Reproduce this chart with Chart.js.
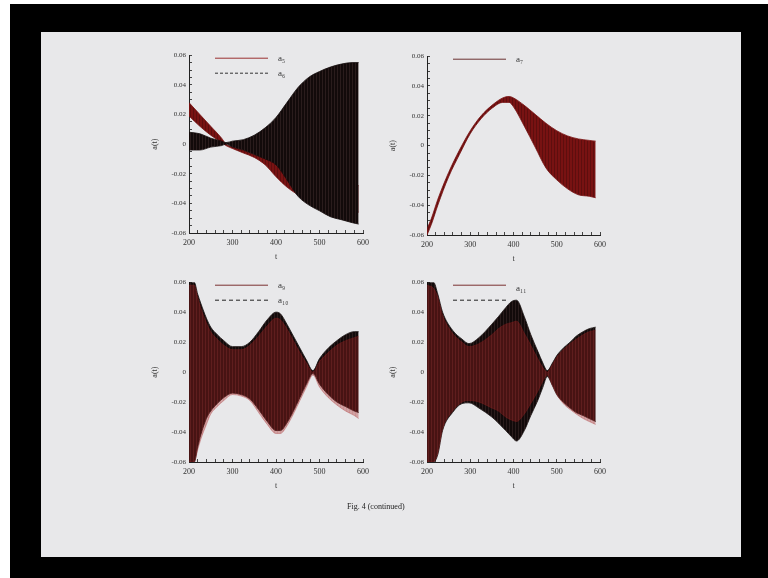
<!DOCTYPE html>
<html>
<head>
<meta charset="utf-8">
<script src="https://cdn.jsdelivr.net/npm/chart.js@4.4.1/dist/chart.umd.min.js"></script>
<style>
  html, body { margin: 0; padding: 0; background: #fff; width: 768px; height: 578px; overflow: hidden; }
  #screen { position: absolute; left: 10px; top: 4px; width: 758px; height: 574px; background: #000; }
  #slide { position: absolute; left: 41px; top: 32px; width: 700px; height: 525px; background: #e8e8ea; }
  canvas { position: absolute; }
  #caption { position: absolute; left: 347px; top: 502px; font: 8px "Liberation Serif", serif; color: #222; }
</style>
</head>
<body>
<div id="screen"></div>
<div id="slide"></div>
<canvas id="c1" width="238" height="228" style="left:139px;top:45px;width:238px;height:228px"></canvas>
<canvas id="c2" width="237" height="229" style="left:377px;top:46px;width:237px;height:229px"></canvas>
<canvas id="c3" width="238" height="230" style="left:139px;top:272px;width:238px;height:230px"></canvas>
<canvas id="c4" width="237" height="230" style="left:377px;top:272px;width:237px;height:230px"></canvas>
<div id="caption">Fig. 4 (continued)</div>
<script>
// tick labels
const xLabels = [200, 300, 400, 500, 600];
const yLabels = ['-0.06', '-0.04', '-0.02', '0', '0.02', '0.04', '0.06'];

// top left: a5 (red band) and a6 (black band), upper / lower envelope
const t1 = [200, 225, 250, 275, 285, 300, 325, 350, 375, 400, 425, 450, 475, 500, 525, 550, 575, 590];
const a5Up = [0.028, 0.020, 0.012, 0.004, 0.000, -0.002, -0.004, -0.007, -0.009, -0.013, -0.018, -0.022, -0.024, -0.025, -0.026, -0.027, -0.028, -0.028];
const a5Lo = [0.019, 0.012, 0.006, 0.001, -0.001, -0.003, -0.006, -0.009, -0.014, -0.022, -0.029, -0.034, -0.037, -0.040, -0.042, -0.044, -0.045, -0.046];
const a6Up = [0.008, 0.007, 0.004, 0.002, 0.001, 0.002, 0.003, 0.006, 0.011, 0.018, 0.028, 0.038, 0.045, 0.049, 0.052, 0.054, 0.055, 0.055];
const a6Lo = [-0.004, -0.004, -0.002, -0.001, 0.000, -0.002, -0.004, -0.007, -0.010, -0.014, -0.024, -0.035, -0.041, -0.045, -0.049, -0.051, -0.053, -0.054];

// top right: a7
const t2 = [200, 210, 225, 250, 275, 300, 325, 350, 375, 390, 400, 425, 450, 475, 500, 525, 550, 575, 590];
const a7Up = [-0.056, -0.049, -0.036, -0.018, -0.003, 0.010, 0.020, 0.027, 0.032, 0.033, 0.032, 0.027, 0.021, 0.015, 0.010, 0.0065, 0.0045, 0.0035, 0.003];
const a7Lo = [-0.060, -0.053, -0.040, -0.021, -0.006, 0.008, 0.018, 0.025, 0.029, 0.029, 0.026, 0.013, -0.001, -0.015, -0.023, -0.029, -0.033, -0.034, -0.035];

// bottom left: a9 (red) and a10 (black)
const t3 = [200, 212, 220, 227, 240, 250, 265, 280, 300, 320, 340, 360, 380, 400, 410, 425, 440, 455, 470, 485, 500, 520, 540, 560, 580, 590];
const a9Up = [0.058, 0.058, 0.050, 0.043, 0.033, 0.027, 0.022, 0.018, 0.015, 0.015, 0.018, 0.024, 0.031, 0.036, 0.035, 0.029, 0.021, 0.013, 0.006, 0.000, 0.007, 0.013, 0.018, 0.021, 0.023, 0.024];
const a9Lo = [-0.060, -0.060, -0.052, -0.045, -0.035, -0.028, -0.023, -0.019, -0.015, -0.016, -0.019, -0.027, -0.035, -0.041, -0.041, -0.036, -0.028, -0.019, -0.010, -0.002, -0.010, -0.017, -0.022, -0.026, -0.029, -0.031];
const a10Up = [0.060, 0.060, 0.052, 0.046, 0.036, 0.030, 0.025, 0.021, 0.017, 0.017, 0.020, 0.027, 0.035, 0.040, 0.039, 0.032, 0.024, 0.016, 0.008, 0.001, 0.009, 0.016, 0.021, 0.025, 0.027, 0.027];
const a10Lo = [-0.060, -0.060, -0.050, -0.042, -0.031, -0.026, -0.021, -0.017, -0.014, -0.015, -0.018, -0.025, -0.033, -0.039, -0.039, -0.034, -0.026, -0.017, -0.008, -0.001, -0.008, -0.015, -0.020, -0.023, -0.026, -0.027];

// bottom right: a11 (red) and the dashed black one
const t4 = [200, 215, 225, 236, 259, 281, 297, 320, 350, 365, 382, 395, 407, 425, 440, 456, 468, 478, 490, 500, 515, 531, 545, 561, 575, 590];
const a11Up = [0.058, 0.056, 0.050, 0.038, 0.026, 0.020, 0.017, 0.019, 0.025, 0.029, 0.032, 0.033, 0.034, 0.026, 0.018, 0.009, 0.003, 0.000, 0.005, 0.010, 0.015, 0.019, 0.022, 0.025, 0.027, 0.028];
const a11Lo = [-0.060, -0.060, -0.054, -0.038, -0.026, -0.020, -0.019, -0.020, -0.024, -0.026, -0.030, -0.032, -0.033, -0.028, -0.021, -0.013, -0.006, -0.002, -0.009, -0.015, -0.021, -0.025, -0.028, -0.031, -0.033, -0.035];
const a12Up = [0.060, 0.060, 0.052, 0.040, 0.028, 0.022, 0.019, 0.023, 0.032, 0.037, 0.043, 0.047, 0.048, 0.037, 0.025, 0.014, 0.006, 0.001, 0.006, 0.011, 0.016, 0.020, 0.024, 0.027, 0.029, 0.030];
const a12Lo = [-0.060, -0.060, -0.055, -0.039, -0.027, -0.021, -0.0205, -0.024, -0.030, -0.034, -0.039, -0.043, -0.046, -0.039, -0.029, -0.019, -0.010, -0.003, -0.009, -0.015, -0.020, -0.024, -0.027, -0.029, -0.031, -0.033];

const RED = '#781212';
const BLACK = '#140c0c';

// thin vertical stripes give the bands some of the dense oscillation look
function stripes(a, b, w) {
	const c = document.createElement('canvas');
	c.width = w; c.height = 4;
	const g = c.getContext('2d');
	g.fillStyle = a; g.fillRect(0, 0, w, 4);
	g.fillStyle = b; g.fillRect(0, 0, 1, 4);
	return g.createPattern(c, 'repeat');
}
const BLACK_FILL = stripes('#120a0a', '#2a1c1c', 3);
const RED_FILL = stripes('#781212', '#5e0e0e', 3);
const RED_MIX = stripes('rgba(165, 35, 35, 0.36)', 'rgba(165, 35, 35, 0.12)', 3);

Chart.defaults.font.family = '"Liberation Serif", serif';
Chart.defaults.color = '#333';

// legend drawn inside the plot, like the original
const insideLegend = {
	id: 'insideLegend',
	afterDatasetsDraw(chart, args, opts) {
		const {ctx, chartArea} = chart;
		ctx.save();
		opts.items.forEach((it, i) => {
			const y = chartArea.top + 3 + i * 15;
			ctx.beginPath();
			ctx.setLineDash(it.dash || []);
			ctx.strokeStyle = it.color;
			ctx.lineWidth = 1;
			ctx.moveTo(chartArea.left + 26, y);
			ctx.lineTo(chartArea.left + 79, y);
			ctx.stroke();
			ctx.setLineDash([]);
			ctx.fillStyle = '#333';
			ctx.font = '9px "Liberation Serif", serif';
			ctx.textBaseline = 'middle';
			ctx.fillText(it.text, chartArea.left + 89, y + (it.dy || 0));
		});
		ctx.restore();
	}
};

// one band = two line datasets, the upper one filled down to the lower one
function band(t, up, lo, line, fill) {
	return [{
		data: t.map((x, i) => ({x: x, y: up[i]})),
		borderColor: line, backgroundColor: fill, borderWidth: 0.8,
		fill: '+1', pointRadius: 0, cubicInterpolationMode: 'monotone'
	}, {
		data: t.map((x, i) => ({x: x, y: lo[i]})),
		borderColor: line, borderWidth: 0.8,
		fill: false, pointRadius: 0, cubicInterpolationMode: 'monotone'
	}];
}

function makePanel(id, datasets, legendItems) {
	const ctx = document.getElementById(id).getContext('2d');
	return new Chart(ctx, {
		type: 'line',
		data: {datasets: datasets},
		plugins: [insideLegend],
		options: {
			responsive: false,
			animation: false,
			layout: {padding: {left: 10, right: 10, top: 8, bottom: 10}},
			plugins: {
				legend: {display: false},
				tooltip: {enabled: false},
				insideLegend: {items: legendItems}
			},
			scales: {
				x: {
					type: 'linear', min: 200, max: 600,
					afterFit: (s) => { s.height = 30; },
					border: {color: '#222', width: 1},
					grid: {drawOnChartArea: false, tickLength: -3, tickColor: '#444'},
					ticks: {
						stepSize: 20, autoSkip: false, maxRotation: 0, padding: 8,
						font: {size: 8}, color: '#333',
						callback: (v) => xLabels.includes(v) ? String(v) : ''
					},
					title: {display: true, text: 't', font: {size: 8}, color: '#333', padding: {top: 0, bottom: 1}}
				},
				y: {
					min: -0.06, max: 0.06,
					afterFit: (s) => { s.width = 40; },
					border: {color: '#222', width: 1},
					grid: {drawOnChartArea: false, tickLength: -3, tickColor: '#444'},
					ticks: {
						stepSize: 0.005, autoSkip: false, padding: 6,
						font: {size: 7}, color: '#333',
						callback: (v) => {
							const k = Math.round(v * 1000);
							if (k % 20 !== 0) return '';
							const s = k === 0 ? '0' : (k / 1000).toFixed(2);
							return yLabels.includes(s) ? s : '';
						}
					},
					title: {display: true, text: 'a(t)', font: {size: 8}, color: '#333', padding: {top: 1, bottom: 0}}
				}
			}
		}
	});
}

makePanel('c1',
	[].concat(band(t1, a6Up, a6Lo, BLACK, BLACK_FILL), band(t1, a5Up, a5Lo, RED, RED_FILL)),
	[{text: 'a₅', color: '#9a3030'}, {text: 'a₆', color: '#333', dash: [3, 2]}]);

makePanel('c2',
	band(t2, a7Up, a7Lo, RED, RED_FILL),
	[{text: 'a₇', color: '#6a3030'}]);

makePanel('c3',
	[].concat(band(t3, a9Up, a9Lo, 'rgba(165,35,35,0.4)', RED_MIX), band(t3, a10Up, a10Lo, BLACK, BLACK_FILL)),
	[{text: 'a₉', color: '#7a3030'}, {text: 'a₁₀', color: '#222', dash: [4, 3]}]);

makePanel('c4',
	[].concat(band(t4, a11Up, a11Lo, 'rgba(165,35,35,0.4)', RED_MIX), band(t4, a12Up, a12Lo, BLACK, BLACK_FILL)),
	[{text: 'a₁₁', color: '#7a3030', dy: 3}, {text: '', color: '#222', dash: [4, 3]}]);
</script>
</body>
</html>
